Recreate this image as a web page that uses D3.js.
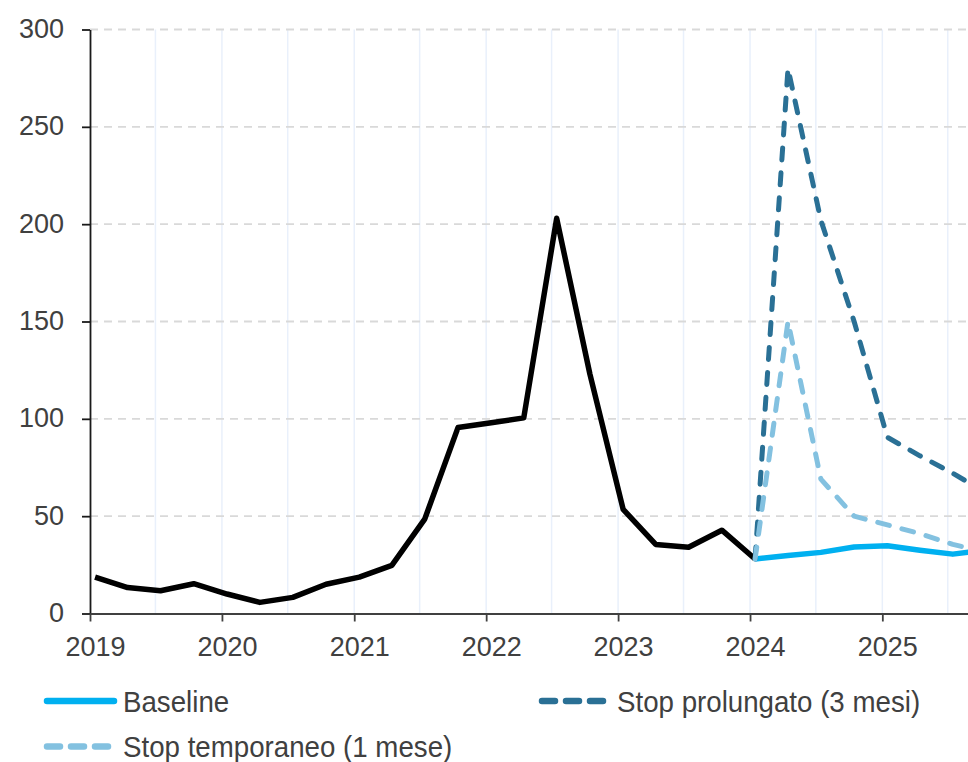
<!DOCTYPE html>
<html>
<head>
<meta charset="utf-8">
<script src="https://cdn.jsdelivr.net/npm/d3@7"></script>
<style>
  html, body { margin: 0; padding: 0; background: #fff; }
  svg { display: block; font-family: "Liberation Sans", Arial, sans-serif; }
</style>
</head>
<body>
<svg id="chart" width="968" height="762"></svg>
<script>
// Quarterly observations (mid-month of each quarter's first month)
const histDates = [
  "2019-01-15","2019-04-15","2019-07-15","2019-10-15",
  "2020-01-15","2020-04-15","2020-07-15","2020-10-15",
  "2021-01-15","2021-04-15","2021-07-15","2021-10-15",
  "2022-01-15","2022-04-15","2022-07-15","2022-10-15",
  "2023-01-15","2023-04-15","2023-07-15","2023-10-15",
  "2024-01-15"
];
const histValues = [
  18.7, 13.3, 11.7, 15.3,
  10.0, 5.7, 8.3, 15.0,
  18.7, 24.7, 48.5, 95.5,
  98.0, 100.5, 203.0, 123.0,
  53.5, 35.5, 34.0, 42.8,
  28.0
];

// Scenario paths
const scenDates = [
  "2024-01-15","2024-04-15","2024-07-15","2024-10-15",
  "2025-01-15","2025-04-15","2025-07-15","2025-10-15"
];
const baselineValues  = [28, 29.8, 31.4, 34.2, 34.8, 32.5, 30.5, 32.5];
const prolungatoValues = [28, 280, 202, 150, 90.5, 81, 72, 62];
const temporaneoValues = [28, 150, 69, 50, 45.5, 41, 35.5, 31.5];

const yTicks = [0, 50, 100, 150, 200, 250, 300];
const yearTicks = ["2019","2020","2021","2022","2023","2024","2025"];

const seriesNames = {
  baseline: "Baseline",
  prolungato: "Stop prolungato (3 mesi)",
  temporaneo: "Stop temporaneo (1 mese)"
};

const colors = {
  hist: "#000000",
  baseline: "#00b0f0",
  prolungato: "#2a7095",
  temporaneo: "#83c1e0"
};

const parse = d3.timeParse("%Y-%m-%d");
const svg = d3.select("#chart");

const plotLeft = 90, plotRight = 968, plotTop = 29.5, plotBottom = 613.5;

const x = d3.scaleTime()
  .domain([parse("2019-01-01"), parse("2025-08-26")])
  .range([plotLeft, plotRight]);
const y = d3.scaleLinear().domain([0, 300]).range([plotBottom, plotTop]);

// clip region for the plotted series
svg.append("defs").append("clipPath").attr("id", "plotClip")
  .append("rect").attr("x", plotLeft).attr("y", 0)
  .attr("width", plotRight - plotLeft).attr("height", plotBottom + 4);

// vertical half-year grid
const halfYears = d3.timeMonth.every(6).range(parse("2019-07-01"), x.domain()[1]);
svg.append("g").selectAll("line").data(halfYears).join("line")
  .attr("x1", d => x(d)).attr("x2", d => x(d))
  .attr("y1", plotTop).attr("y2", plotBottom)
  .attr("stroke", "#e9f0fb").attr("stroke-width", 1.5);

// horizontal dashed grid
svg.append("g").selectAll("line").data(yTicks.filter(v => v > 0)).join("line")
  .attr("x1", plotLeft).attr("x2", plotRight)
  .attr("y1", d => y(d)).attr("y2", d => y(d))
  .attr("stroke", "#d9d9d9").attr("stroke-width", 1.8)
  .attr("stroke-dasharray", "8,6");

// axes
const yAxis = svg.append("g").attr("transform", `translate(${plotLeft},0)`)
  .call(d3.axisLeft(y).tickValues(yTicks).tickSize(8).tickSizeOuter(0).tickPadding(18));
yAxis.select(".domain").attr("stroke", "#1a1a1a").attr("stroke-width", 1.8);
yAxis.selectAll(".tick line").attr("stroke", "#1a1a1a").attr("stroke-width", 1.8);
yAxis.selectAll(".tick text").attr("fill", "#404040").style("font-size", "27px")
  .attr("dy", "0.3em");

const xAxis = svg.append("g").attr("transform", `translate(0,${plotBottom})`)
  .call(d3.axisBottom(x)
    .tickValues(yearTicks.map(t => parse(t + "-01-01")))
    .tickFormat(d3.timeFormat("%Y"))
    .tickSize(8).tickSizeOuter(0).tickPadding(15));
xAxis.select(".domain").attr("stroke", "#404040").attr("stroke-width", 1.8);
xAxis.selectAll(".tick line").attr("stroke", "#404040").attr("stroke-width", 1.8);
xAxis.selectAll(".tick text").attr("fill", "#404040").style("font-size", "27px")
  .attr("dx", 5);

// series
const line = d3.line().x(d => x(d.date)).y(d => y(d.value));
const zip = (dates, vals) => dates.map((d, i) => ({ date: parse(d), value: vals[i] }));

const plot = svg.append("g").attr("clip-path", "url(#plotClip)");

plot.append("path").datum(zip(histDates, histValues))
  .attr("d", line).attr("fill", "none")
  .attr("stroke", colors.hist).attr("stroke-width", 5.5)
  .attr("stroke-linejoin", "round").attr("stroke-linecap", "butt");

plot.append("path").datum(zip(scenDates, baselineValues))
  .attr("d", line).attr("fill", "none")
  .attr("stroke", colors.baseline).attr("stroke-width", 5.5)
  .attr("stroke-linejoin", "round");

plot.append("path").datum(zip(scenDates, prolungatoValues))
  .attr("d", line).attr("fill", "none")
  .attr("stroke", colors.prolungato).attr("stroke-width", 5)
  .attr("stroke-linejoin", "round").attr("stroke-linecap", "round")
  .attr("stroke-dasharray", "12,13");

plot.append("path").datum(zip(scenDates, temporaneoValues))
  .attr("d", line).attr("fill", "none")
  .attr("stroke", colors.temporaneo).attr("stroke-width", 5)
  .attr("stroke-linejoin", "round").attr("stroke-linecap", "round")
  .attr("stroke-dasharray", "12,13");

// legend
const legendItems = [
  { key: "baseline", x: 44, y: 701, dash: null },
  { key: "prolungato", x: 539, y: 701, dash: "13,11" },
  { key: "temporaneo", x: 44, y: 746.5, dash: "13,11" }
];
const lg = svg.append("g");
legendItems.forEach(it => {
  const g = lg.append("g");
  g.append("line")
    .attr("x1", it.x + 3).attr("x2", it.x + (it.dash ? 64 : 70))
    .attr("y1", it.y).attr("y2", it.y)
    .attr("stroke", colors[it.key]).attr("stroke-width", 6.5)
    .attr("stroke-linecap", "round")
    .attr("stroke-dasharray", it.dash);
  g.append("text")
    .attr("transform", `translate(${it.key === "prolungato" ? 617 : 123},${it.y + 10.5}) scale(0.923,1)`)
    .attr("fill", "#404040").style("font-size", "30px")
    .text(seriesNames[it.key]);
});
</script>
</body>
</html>
